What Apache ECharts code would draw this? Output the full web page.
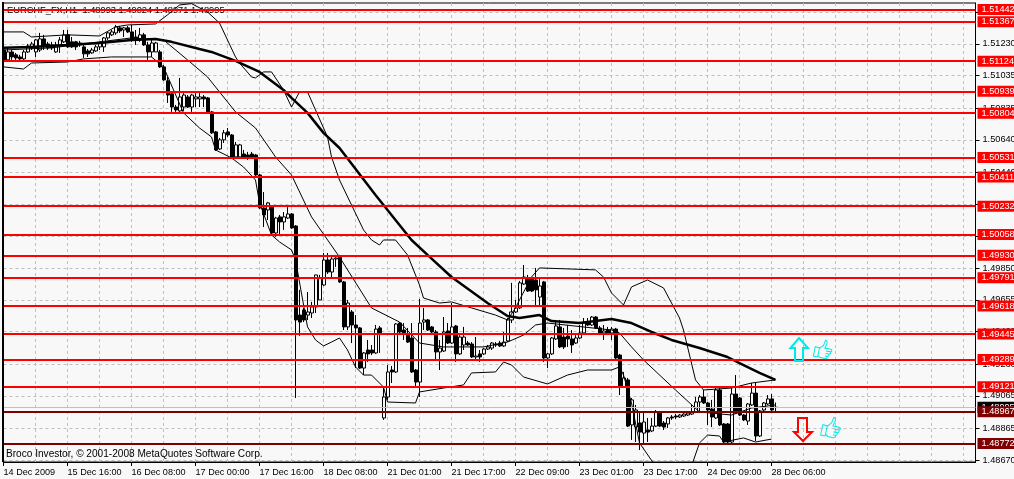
<!DOCTYPE html>
<html><head><meta charset="utf-8">
<style>html,body{margin:0;padding:0;background:#f8f8f8}#c{width:1014px;height:479px}</style>
<script src="https://cdn.jsdelivr.net/npm/echarts@6/dist/echarts.min.js"></script>
</head><body><div id="c"></div>
<script>
const chartTitle = 'EURCHF_FX,H1  1.48993 1.49024 1.48971 1.48995';
const footerText = 'Broco Investor, © 2001-2008 MetaQuotes Software Corp.';
const dateLabels = ['14 Dec 2009','15 Dec 16:00','16 Dec 08:00','17 Dec 00:00','17 Dec 16:00','18 Dec 08:00','21 Dec 01:00','21 Dec 17:00','22 Dec 09:00','23 Dec 01:00','23 Dec 17:00','24 Dec 09:00','28 Dec 06:00'];
const priceTicks = [1.51427,1.51230,1.51035,1.50835,1.50640,1.50440,1.50245,1.50050,1.49850,1.49655,1.49460,1.49260,1.49065,1.48865,1.48670];
const redLevels = [1.51442,1.51367,1.51124,1.50939,1.50804,1.50531,1.50411,1.50232,1.50058,1.49930,1.49791,1.49618,1.49445,1.49289,1.49121];
const darkLevels = [1.48967,1.48772];
const lastPrice = 1.48995;

const opens = [
1.51193,1.51132,1.51181,1.51163,1.51150,1.51138,1.51181,1.51206,1.51181,1.51193,
1.51261,1.51230,1.51224,1.51181,1.51224,1.51243,1.51286,1.51243,1.51243,1.51236,
1.51212,1.51187,1.51175,1.51187,1.51212,1.51212,1.51267,1.51286,1.51298,1.51329,
1.51316,1.51329,1.51304,1.51273,1.51255,1.51286,1.51224,1.51181,1.51181,1.51181,
1.51089,1.51003,1.50923,1.50842,1.50818,1.50842,1.50904,1.50842,1.50892,1.50892,
1.50904,1.50898,1.50812,1.50689,1.50584,1.50640,1.50689,1.50670,1.50535,1.50535,
1.50553,1.50547,1.50553,1.50547,1.50424,1.50221,1.50209,1.50227,1.50067,1.50166,
1.50135,1.50159,1.50184,1.50110,1.49562,1.49593,1.49562,1.49575,1.49612,1.49655,
1.49747,1.49901,1.49827,1.49907,1.49919,1.49766,1.49489,1.49581,1.49501,1.49483,
1.49236,1.49347,1.49347,1.49329,1.49483,1.48929,1.49058,1.49224,1.49212,1.49513,
1.49470,1.49439,1.49421,1.49224,1.49150,1.49519,1.49532,1.49489,1.49458,1.49335,
1.49341,1.49464,1.49390,1.49495,1.49323,1.49378,1.49390,1.49384,1.49304,1.49323,
1.49323,1.49353,1.49359,1.49384,1.49390,1.49372,1.49403,1.49532,1.49581,1.49606,
1.49753,1.49784,1.49784,1.49778,1.49673,1.49766,1.49298,1.49323,1.49415,1.49489,
1.49427,1.49433,1.49415,1.49390,1.49421,1.49452,1.49513,1.49501,1.49550,1.49483,
1.49452,1.49470,1.49452,1.49476,1.49316,1.49119,1.49163,1.48886,1.48873,1.48898,
1.48836,1.48855,1.48849,1.48879,1.48959,1.48898,1.48892,1.48935,1.48941,1.48935,
1.48941,1.48947,1.48953,1.48966,1.49027,1.49058,1.49021,1.48984,1.48929,1.49101,
1.48892,1.48892,1.48781,1.49076,1.49052,1.48947,1.48910,1.49009,1.49082,1.48818,
1.48978,1.49015,1.49046,1.48993];
const closes = [
1.51132,1.51181,1.51150,1.51144,1.51138,1.51181,1.51218,1.51230,1.51255,1.51261,
1.51212,1.51206,1.51206,1.51224,1.51255,1.51286,1.51212,1.51212,1.51212,1.51224,
1.51169,1.51169,1.51193,1.51212,1.51236,1.51267,1.51298,1.51304,1.51335,1.51310,
1.51329,1.51304,1.51255,1.51255,1.51286,1.51224,1.51181,1.51236,1.51236,1.51089,
1.51009,1.50916,1.50842,1.50824,1.50904,1.50916,1.50842,1.50916,1.50904,1.50904,
1.50892,1.50812,1.50683,1.50578,1.50640,1.50683,1.50670,1.50535,1.50609,1.50609,
1.50535,1.50535,1.50535,1.50424,1.50221,1.50178,1.50252,1.50067,1.50159,1.50135,
1.50166,1.50184,1.50098,1.49532,1.49519,1.49532,1.49581,1.49612,1.49809,1.49790,
1.49901,1.49827,1.49907,1.49913,1.49766,1.49489,1.49636,1.49501,1.49483,1.49236,
1.49329,1.49323,1.49329,1.49476,1.49452,1.49058,1.49212,1.49212,1.49507,1.49458,
1.49452,1.49396,1.49212,1.49150,1.49513,1.49532,1.49470,1.49458,1.49335,1.49359,
1.49458,1.49390,1.49489,1.49323,1.49427,1.49427,1.49378,1.49304,1.49310,1.49304,
1.49353,1.49366,1.49390,1.49378,1.49372,1.49396,1.49532,1.49581,1.49606,1.49760,
1.49796,1.49710,1.49710,1.49717,1.49741,1.49298,1.49323,1.49421,1.49495,1.49366,
1.49366,1.49415,1.49378,1.49421,1.49452,1.49513,1.49501,1.49550,1.49483,1.49452,
1.49464,1.49452,1.49476,1.49298,1.49119,1.49175,1.48879,1.49040,1.48978,1.48842,
1.48904,1.48842,1.48879,1.48966,1.48879,1.48873,1.48929,1.48929,1.48935,1.48947,
1.48953,1.48959,1.48966,1.49027,1.49058,1.49021,1.48978,1.48935,1.49101,1.48886,
1.48781,1.48781,1.49076,1.48959,1.48947,1.48917,1.49015,1.49082,1.48818,1.48972,
1.49021,1.49046,1.48978,1.48995];
const lows = [
1.51126,1.51119,1.51132,1.51132,1.51132,1.51132,1.51175,1.51193,1.51150,1.51181,
1.51193,1.51193,1.51193,1.51175,1.51175,1.51236,1.51206,1.51206,1.51193,1.51212,
1.51144,1.51150,1.51169,1.51181,1.51193,1.51181,1.51255,1.51279,1.51286,1.51298,
1.51273,1.51298,1.51243,1.51224,1.51243,1.51218,1.51132,1.51150,1.51181,1.51083,
1.51003,1.50867,1.50812,1.50812,1.50812,1.50818,1.50836,1.50812,1.50842,1.50842,
1.50842,1.50806,1.50676,1.50572,1.50578,1.50621,1.50658,1.50529,1.50529,1.50529,
1.50523,1.50516,1.50523,1.50418,1.50215,1.50104,1.50147,1.50061,1.50043,1.50055,
1.50086,1.50153,1.50092,1.49052,1.49433,1.49519,1.49532,1.49544,1.49575,1.49655,
1.49741,1.49815,1.49784,1.49858,1.49760,1.49470,1.49470,1.49390,1.49236,1.49230,
1.49193,1.49273,1.49316,1.49323,1.49329,1.48917,1.49040,1.49144,1.49206,1.49439,
1.49409,1.49390,1.49206,1.49119,1.49058,1.49470,1.49464,1.49452,1.49286,1.49224,
1.49335,1.49384,1.49384,1.49273,1.49316,1.49347,1.49372,1.49298,1.49286,1.49273,
1.49316,1.49347,1.49347,1.49366,1.49366,1.49366,1.49396,1.49513,1.49575,1.49599,
1.49747,1.49704,1.49704,1.49624,1.49612,1.49273,1.49236,1.49316,1.49409,1.49359,
1.49353,1.49366,1.49329,1.49384,1.49415,1.49446,1.49495,1.49495,1.49476,1.49439,
1.49409,1.49439,1.49409,1.49292,1.49070,1.49113,1.48873,1.48794,1.48781,1.48732,
1.48775,1.48781,1.48842,1.48873,1.48873,1.48855,1.48867,1.48917,1.48923,1.48929,
1.48935,1.48941,1.48947,1.48959,1.48966,1.49015,1.48886,1.48873,1.48923,1.48879,
1.48775,1.48775,1.48775,1.48953,1.48941,1.48910,1.48886,1.49003,1.48787,1.48812,
1.48972,1.49009,1.48972,1.48971];
const highs = [
1.51199,1.51206,1.51193,1.51175,1.51163,1.51193,1.51230,1.51243,1.51261,1.51298,
1.51286,1.51243,1.51243,1.51243,1.51273,1.51316,1.51316,1.51273,1.51249,1.51249,
1.51224,1.51199,1.51206,1.51224,1.51243,1.51273,1.51304,1.51316,1.51347,1.51341,
1.51335,1.51341,1.51347,1.51316,1.51329,1.51298,1.51243,1.51255,1.51243,1.51193,
1.51101,1.51027,1.50929,1.50855,1.51021,1.50929,1.50916,1.50923,1.50929,1.50929,
1.50916,1.50904,1.50818,1.50695,1.50652,1.50701,1.50713,1.50676,1.50627,1.50615,
1.50578,1.50566,1.50566,1.50553,1.50430,1.50319,1.50258,1.50233,1.50166,1.50178,
1.50196,1.50227,1.50190,1.50116,1.49717,1.49606,1.49704,1.49643,1.49809,1.49809,
1.49944,1.49944,1.49932,1.49932,1.49932,1.49772,1.49655,1.49593,1.49562,1.49489,
1.49335,1.49409,1.49378,1.49501,1.49495,1.49119,1.49255,1.49249,1.49513,1.49519,
1.49513,1.49483,1.49513,1.49230,1.49661,1.49606,1.49538,1.49495,1.49470,1.49409,
1.49550,1.49513,1.49636,1.49501,1.49439,1.49489,1.49403,1.49396,1.49427,1.49347,
1.49359,1.49378,1.49396,1.49396,1.49403,1.49458,1.49544,1.49760,1.49655,1.49772,
1.49870,1.49809,1.49796,1.49852,1.49784,1.49772,1.49329,1.49427,1.49532,1.49532,
1.49483,1.49501,1.49470,1.49439,1.49501,1.49544,1.49544,1.49556,1.49556,1.49495,
1.49501,1.49489,1.49489,1.49483,1.49323,1.49212,1.49175,1.49052,1.49009,1.48966,
1.48959,1.48929,1.48929,1.48978,1.48966,1.48910,1.48935,1.48947,1.48953,1.48953,
1.48959,1.48966,1.49009,1.49058,1.49070,1.49101,1.49027,1.49040,1.49113,1.49113,
1.48898,1.48898,1.49113,1.49193,1.49058,1.48953,1.49021,1.49144,1.49144,1.48978,
1.49027,1.49070,1.49076,1.49024];

// [bar index, price]
const thickMA = [[0,1.51206],[7,1.51212],[16,1.51224],[24,1.51236],[32,1.51255],[38,1.51261],[42,1.51243],[49,1.51199],[52,1.51181],[58,1.51126],[64,1.51058],[70,1.50947],[72,1.50898],[76,1.50806],[80,1.50683],[84,1.50590],[93,1.50301],[102,1.50024],[106,1.49932],[112,1.49796],[121,1.49636],[126,1.49556],[129,1.49544],[134,1.49562],[137,1.49525],[144,1.49513],[152,1.49538],[157,1.49513],[162,1.49458],[167,1.49409],[174,1.49359],[181,1.49304],[184,1.49267],[189,1.49206],[193,1.49163]];
const upperBand = [[0,1.51304],[5,1.51304],[7,1.51273],[16,1.51286],[24,1.51279],[28,1.51335],[31,1.51347],[38,1.51353],[41,1.51409],[44,1.51470],[47,1.51478],[51,1.51427],[54,1.51359],[58,1.51150],[59,1.51113],[62,1.51027],[63,1.51021],[65,1.51058],[67,1.51058],[70,1.50947],[72,1.50842],[74,1.50935],[76,1.50935],[78,1.50824],[81,1.50658],[82,1.50535],[84,1.50393],[90,1.50086],[92,1.50024],[94,1.49993],[95,1.50024],[98,1.50024],[101,1.49932],[104,1.49747],[105,1.49667],[109,1.49636],[112,1.49643],[117,1.49606],[123,1.49562],[126,1.49532],[128,1.49606],[129,1.49655],[132,1.49796],[134,1.49852],[148,1.49840],[150,1.49796],[152,1.49698],[155,1.49624],[157,1.49735],[161,1.49778],[165,1.49729],[169,1.49544],[170,1.49470],[173,1.49163],[175,1.49101],[182,1.49113],[187,1.49144],[193,1.49163]];
const middleBand = [[0,1.51193],[12,1.51206],[24,1.51243],[32,1.51267],[40,1.51255],[46,1.51132],[51,1.51027],[58,1.50812],[63,1.50713],[68,1.50535],[72,1.50424],[77,1.50166],[84,1.49919],[92,1.49606],[99,1.49519],[104,1.49390],[110,1.49366],[120,1.49366],[126,1.49396],[130,1.49439],[133,1.49501],[136,1.49513],[152,1.49470],[154,1.49452],[157,1.49366],[160,1.49286],[168,1.49101],[174,1.48966],[182,1.48947],[187,1.48990],[193,1.49009]];
const lowerBand = [[0,1.51089],[5,1.51076],[7,1.51113],[16,1.51119],[20,1.51138],[27,1.51150],[37,1.51150],[40,1.51089],[45,1.50806],[49,1.50713],[52,1.50658],[53,1.50578],[57,1.50529],[60,1.50473],[63,1.50393],[64,1.50252],[67,1.50055],[69,1.50012],[72,1.49963],[73,1.49901],[76,1.49489],[78,1.49409],[80,1.49372],[82,1.49396],[84,1.49421],[86,1.49347],[88,1.49243],[90,1.49193],[92,1.49193],[95,1.49119],[96,1.49027],[103,1.49021],[104,1.49089],[110,1.49113],[115,1.49132],[117,1.49206],[123,1.49212],[125,1.49273],[127,1.49255],[130,1.49181],[136,1.49138],[141,1.49193],[146,1.49224],[152,1.49224],[154,1.49243],[155,1.49193],[157,1.49021],[159,1.48775],[163,1.48633],[172,1.48633],[174,1.48775],[176,1.48824],[179,1.48818],[180,1.48781],[185,1.48806],[188,1.48781],[192,1.48799]];

const FONT = 'Liberation Sans';
const BAR_COUNT = 244;
const categories = Array.from({length: BAR_COUNT}, (_, i) => (i % 16 === 0 && dateLabels[i / 16]) || '');
const candles = opens.map((o, i) => [o, closes[i], lows[i], highs[i]]);
const levelItems = [
  {yAxis: lastPrice, lineStyle: {color: '#c0c0c0', width: 1, type: 'solid'}, label: {backgroundColor: '#000'}},
  ...redLevels.map(v => ({yAxis: v, lineStyle: {color: '#ff0000', width: 2, type: 'solid'}, label: {backgroundColor: '#ff0000'}})),
  ...darkLevels.map(v => ({yAxis: v, lineStyle: {color: '#800000', width: 2, type: 'solid'}, label: {backgroundColor: '#800000'}}))
];
const thumb = 'path://M2 11h5v11H2z M7 12l4-5 1-6c2 0 3 2 2 5l-1 4h7c2 0 2 3 0 3 1 1 1 3-1 3 1 1 0 3-1 3 0 2-1 3-2 3H10l-3-2 M15 13h5 M15 16h5 M15 19h4';
const thumbStyle = {color: 'rgba(0,0,0,0)', borderColor: '#00e8e8', borderWidth: 1};
const lineBase = {type: 'line', showSymbol: false, symbol: 'none', silent: true, animation: false, clip: true, smooth: false};

const chart = echarts.init(document.getElementById('c'), null, {renderer: 'canvas'});
chart.setOption({
  animation: false,
  backgroundColor: '#f8f8f8',
  title: [
    {text: chartTitle, left: 7, top: 4, padding: 0, z: 1, textStyle: {fontFamily: FONT, fontSize: 9.3, fontWeight: 'normal', color: '#000', lineHeight: 12}},
    {text: footerText, left: 6, top: 448, padding: 0, z: 1, textStyle: {fontFamily: FONT, fontSize: 10.1, fontWeight: 'normal', color: '#000', lineHeight: 12}}
  ],
  grid: {left: 3.5, top: 3, width: 972, height: 459, show: true, backgroundColor: '#f8f8f8', borderColor: '#000', borderWidth: 1, containLabel: false, outerBoundsMode: 'none'},
  xAxis: {
    type: 'category', data: categories, boundaryGap: false,
    axisLine: {show: true, lineStyle: {color: '#000', width: 1}},
    axisTick: {show: true, length: 4, lineStyle: {color: '#000'}, interval: (i, v) => v !== ''},
    axisLabel: {show: true, interval: 15, align: 'left', margin: 6, color: '#000', fontFamily: FONT, fontSize: 9.1, hideOverlap: false, showMinLabel: true},
    splitLine: {show: true, interval: 7, lineStyle: {color: '#c0c0c0', type: [3, 3], width: 1}}
  },
  yAxis: {
    type: 'value', position: 'right', min: 1.48658, max: 1.51482, scale: true,
    axisLine: {show: true, lineStyle: {color: '#000', width: 1}},
    axisTick: {show: true, length: 4, inside: false, lineStyle: {color: '#000'}, customValues: priceTicks},
    axisLabel: {show: true, margin: 7, color: '#000', fontFamily: FONT, fontSize: 9.2, customValues: priceTicks, formatter: v => v.toFixed(5)},
    splitLine: {show: true, lineStyle: {color: '#c0c0c0', type: [3, 3], width: 1}}
  },
  series: [
    {type: 'candlestick', data: candles, barWidth: 3.5, silent: true, animation: false,
      itemStyle: {color: '#f8f8f8', color0: '#000', borderColor: '#000', borderColor0: '#000', borderColorDoji: '#000', borderWidth: 1}},
    {...lineBase, name: 'upper', data: upperBand, lineStyle: {color: '#000', width: 1}},
    {...lineBase, name: 'middle', data: middleBand, lineStyle: {color: '#000', width: 1}},
    {...lineBase, name: 'lower', data: lowerBand, lineStyle: {color: '#000', width: 1}},
    {...lineBase, name: 'ma', data: thickMA, lineStyle: {color: '#000', width: 2.5},
      markPoint: {silent: true, animation: false, label: {show: false}, data: [
        {coord: [205, 1.49353], symbol: thumb, symbolSize: [17, 18], symbolRotate: -12, itemStyle: thumbStyle},
        {coord: [207, 1.48873], symbol: thumb, symbolSize: [18, 20], symbolRotate: -12, itemStyle: thumbStyle}
      ]},
      markLine: {silent: true, animation: false, symbol: 'none', precision: 5,
        label: {show: true, position: 'end', distance: 2, formatter: p => p.value.toFixed(5), color: '#fff', fontFamily: FONT, fontSize: 9.2, padding: [1, 4, 1, 4]},
        data: levelItems}}
  ],
  graphic: [
    {type: 'line', z: 10, silent: true, shape: {x1: 3, y1: 2, x2: 3, y2: 462}, style: {stroke: '#000', lineWidth: 2}},
    {type: 'polygon', z: 10, silent: true, shape: {points: [[799,338],[808,348],[803,348],[803,361],[795,361],[795,348],[790.5,348]]}, style: {fill: 'rgba(0,0,0,0)', stroke: '#00e8e8', lineWidth: 2}},
    {type: 'polygon', z: 10, silent: true, shape: {points: [[803,441],[812,432],[807,432],[807,418],[798,418],[798,432],[794,432]]}, style: {fill: 'rgba(0,0,0,0)', stroke: '#ff0000', lineWidth: 2}}
  ]
});
</script></body></html>
